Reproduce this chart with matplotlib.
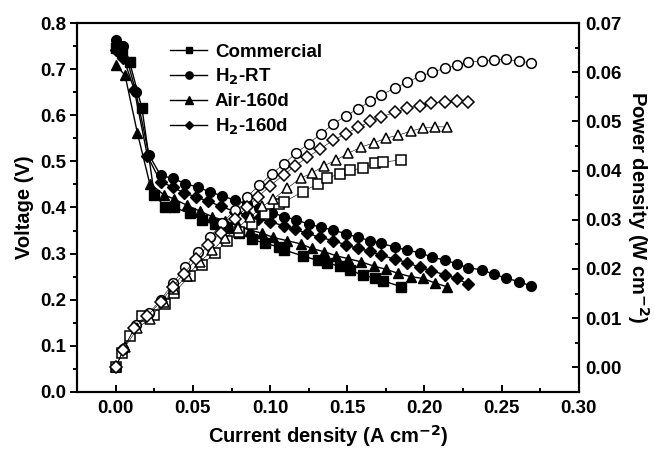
import matplotlib

matplotlib.use("Agg")
import matplotlib.pyplot as plt
from matplotlib.ticker import MultipleLocator

plt.rcParams["font.family"] = ["Liberation Sans", "DejaVu Sans"]
plt.rcParams["font.weight"] = "bold"
plt.rcParams["mathtext.default"] = "bf"

# --- data ---
# Commercial (squares)
i_com = [0.000, 0.004, 0.009, 0.017, 0.025, 0.032, 0.038, 0.048, 0.056, 0.064, 0.072, 0.080, 0.088,
         0.097, 0.106, 0.109, 0.121, 0.131, 0.137, 0.145, 0.152, 0.160, 0.168, 0.173, 0.185]
v_com = [0.745, 0.735, 0.715, 0.615, 0.427, 0.402, 0.400, 0.387, 0.372, 0.364, 0.355, 0.345, 0.331,
         0.322, 0.314, 0.308, 0.295, 0.285, 0.280, 0.272, 0.264, 0.253, 0.247, 0.241, 0.228]
p_com = [0.0000, 0.0029, 0.0064, 0.0105, 0.0107, 0.0129, 0.0152, 0.0186, 0.0208, 0.0233, 0.0256, 0.0276, 0.0291,
         0.0312, 0.0333, 0.0336, 0.0357, 0.0373, 0.0384, 0.0394, 0.0401, 0.0405, 0.0415, 0.0417, 0.0422]

# H2-RT (circles)
i_rt = [0.000, 0.005, 0.013, 0.0215, 0.029, 0.037, 0.045, 0.053, 0.061, 0.069, 0.077, 0.085, 0.093,
        0.101, 0.109, 0.117, 0.125, 0.133, 0.141, 0.149, 0.157, 0.165, 0.172, 0.181, 0.189, 0.197,
        0.205, 0.213, 0.221, 0.228, 0.237, 0.245, 0.253, 0.261, 0.269]
v_rt = [0.763, 0.750, 0.651, 0.514, 0.470, 0.463, 0.452, 0.444, 0.434, 0.425, 0.416, 0.408, 0.398,
        0.389, 0.380, 0.373, 0.364, 0.357, 0.351, 0.343, 0.335, 0.328, 0.322, 0.314, 0.307, 0.302,
        0.292, 0.286, 0.278, 0.269, 0.265, 0.255, 0.247, 0.239, 0.230]
p_rt = [0.0000, 0.0038, 0.0085, 0.0111, 0.0136, 0.0171, 0.0203, 0.0235, 0.0265, 0.0293, 0.0320, 0.0347, 0.0370,
        0.0393, 0.0414, 0.0436, 0.0455, 0.0475, 0.0495, 0.0511, 0.0526, 0.0541, 0.0554, 0.0568, 0.0580, 0.0592,
        0.0600, 0.0608, 0.0614, 0.0621, 0.0623, 0.0625, 0.0626, 0.0623, 0.0619]

# Air-160d (triangles)
i_air = [0.000, 0.006, 0.014, 0.022, 0.031, 0.038, 0.046, 0.0545, 0.0625, 0.071, 0.079, 0.087, 0.095,
         0.102, 0.111, 0.120, 0.127, 0.135, 0.143, 0.1505, 0.159, 0.167, 0.175, 0.183, 0.191, 0.199,
         0.207, 0.2145]
v_air = [0.709, 0.687, 0.562, 0.452, 0.428, 0.418, 0.405, 0.392, 0.380, 0.371, 0.360, 0.351, 0.344,
         0.335, 0.328, 0.321, 0.311, 0.304, 0.295, 0.289, 0.282, 0.273, 0.266, 0.257, 0.250, 0.246,
         0.236, 0.228]
p_air = [0.0000, 0.0041, 0.0079, 0.0099, 0.0133, 0.0159, 0.0186, 0.0214, 0.0238, 0.0263, 0.0284, 0.0305, 0.0327,
         0.0342, 0.0364, 0.0385, 0.0395, 0.0410, 0.0422, 0.0435, 0.0448, 0.0456, 0.0466, 0.0472, 0.0480, 0.0487,
         0.0489, 0.0489]

# H2-160d (diamonds)
i_160 = [0.000, 0.005, 0.012, 0.0205, 0.029, 0.037, 0.044, 0.052, 0.060, 0.068, 0.077, 0.085, 0.092,
         0.100, 0.109, 0.116, 0.124, 0.1325, 0.141, 0.149, 0.157, 0.165, 0.172, 0.181, 0.189, 0.197,
         0.2045, 0.213, 0.221, 0.228]
v_160 = [0.741, 0.725, 0.655, 0.512, 0.456, 0.444, 0.432, 0.423, 0.413, 0.403, 0.391, 0.383, 0.376,
         0.369, 0.360, 0.3525, 0.344, 0.335, 0.328, 0.319, 0.311, 0.305, 0.296, 0.288, 0.280, 0.270,
         0.263, 0.254, 0.246, 0.234]
p_160 = [0.0000, 0.0036, 0.0079, 0.0105, 0.0132, 0.0164, 0.0190, 0.0220, 0.0248, 0.0274, 0.0301, 0.0326, 0.0346,
         0.0369, 0.0392, 0.0409, 0.0427, 0.0444, 0.0462, 0.0475, 0.0488, 0.0500, 0.0509, 0.0519, 0.0527, 0.0532,
         0.0537, 0.0540, 0.0542, 0.0540]

series = [
    ("Commercial", i_com, v_com, p_com, "s"),
    ("H$_2$-RT", i_rt, v_rt, p_rt, "o"),
    ("Air-160d", i_air, v_air, p_air, "^"),
    ("H$_2$-160d", i_160, v_160, p_160, "D"),
]
msize = {"s": 6.5, "o": 7, "^": 7.5, "D": 6}

fig = plt.figure(figsize=(6.54, 4.53), dpi=100)
ax = fig.add_axes([0.118, 0.135, 0.767, 0.814])
ax2 = ax.twinx()

for name, cur, volt, powr, mk in series:
    ax.plot(cur, volt, color="black", lw=1.0, marker=mk, ms=msize[mk],
            mfc="black", mec="black", label=name)
    ax2.plot(cur, powr, color="black", lw=0.4, marker=mk, ms=msize[mk],
             mfc="white", mec="black", mew=1.1)

ax.set_xlim(-0.025, 0.30)
ax.set_ylim(0.0, 0.8)
ax2.set_ylim(-0.005, 0.07)

ax.xaxis.set_major_locator(MultipleLocator(0.05))
ax.xaxis.set_minor_locator(MultipleLocator(0.025))
ax.yaxis.set_major_locator(MultipleLocator(0.1))
ax.yaxis.set_minor_locator(MultipleLocator(0.05))
ax2.yaxis.set_major_locator(MultipleLocator(0.01))
ax2.yaxis.set_minor_locator(MultipleLocator(0.005))
ax.set_xticks([0.0, 0.05, 0.10, 0.15, 0.20, 0.25, 0.30])
ax.set_xticklabels(["0.00", "0.05", "0.10", "0.15", "0.20", "0.25", "0.30"])
ax2.set_yticks([0.00, 0.01, 0.02, 0.03, 0.04, 0.05, 0.06, 0.07])
ax2.set_yticklabels(["0.00", "0.01", "0.02", "0.03", "0.04", "0.05", "0.06", "0.07"])

ax.tick_params(axis="x", which="both", direction="in", labelsize=13.5, width=1.4)
ax.tick_params(axis="x", which="major", length=5, pad=6)
ax.tick_params(axis="x", which="minor", length=3)
ax.tick_params(axis="y", which="both", direction="out", labelsize=13.5, width=1.4)
ax.tick_params(axis="y", which="major", length=5, pad=3)
ax.tick_params(axis="y", which="minor", length=3)
ax2.tick_params(axis="y", which="both", direction="in", labelsize=13.5, width=1.4)
ax2.tick_params(axis="y", which="major", length=5, pad=5)
ax2.tick_params(axis="y", which="minor", length=3)
for a in (ax, ax2):
    for sp in a.spines.values():
        sp.set_linewidth(1.5)

ax.set_xlabel("Current density (A cm$^{-2}$)", fontsize=14.5, fontweight="bold", labelpad=4)
ax.set_ylabel("Voltage (V)", fontsize=14.5, fontweight="bold", labelpad=4)
ax2.set_ylabel("Power density (W cm$^{-2}$)", fontsize=14.5, fontweight="bold",
               rotation=270, va="bottom", labelpad=2)

ax.legend(loc="upper left", bbox_to_anchor=(0.185, 0.945), frameon=False,
          fontsize=13.5, handlelength=2.0, handletextpad=0.4, labelspacing=0.33,
          markerscale=0.75, borderaxespad=0, borderpad=0)

fig.savefig("out.png", dpi=100)
